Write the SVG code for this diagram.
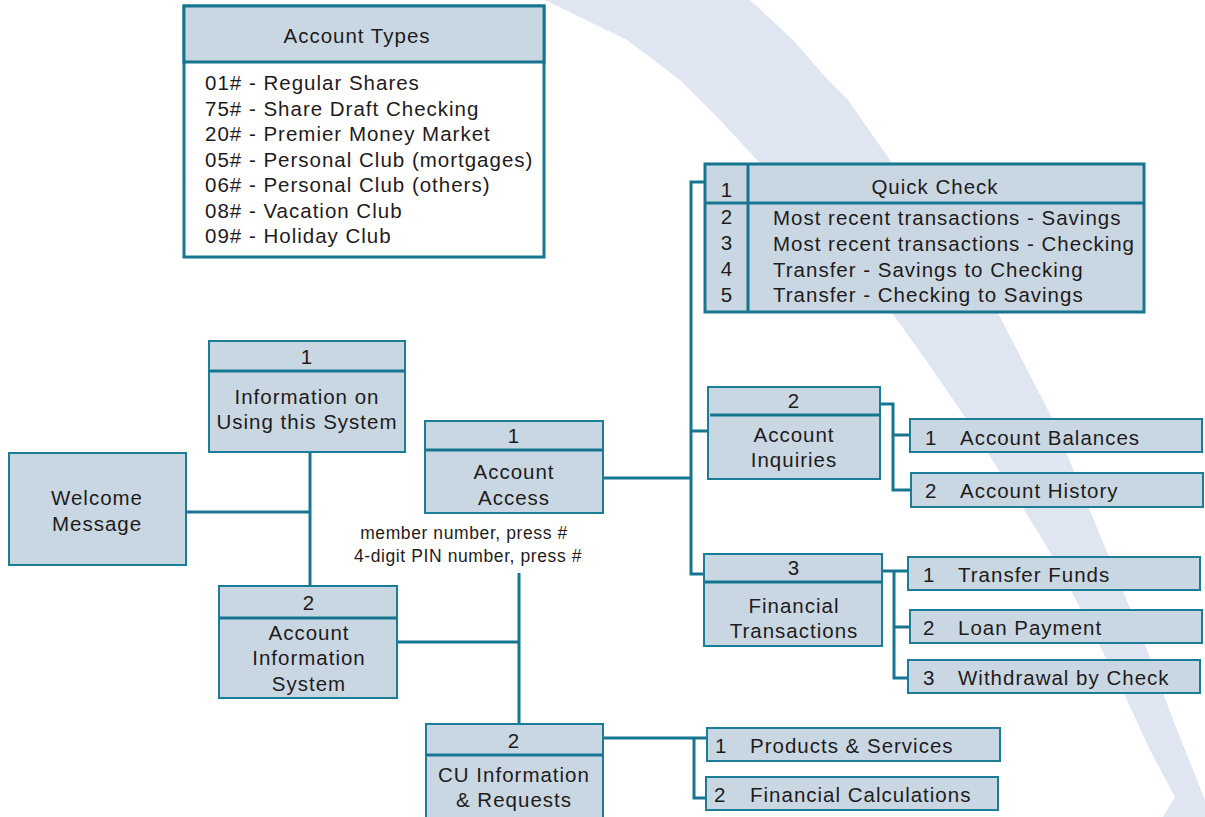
<svg xmlns="http://www.w3.org/2000/svg" width="1205" height="817" viewBox="0 0 1205 817">
<style>
.box{fill:#c9d7e2;stroke:#1b7d98;stroke-width:2}
.thick{fill:#c9d7e2;stroke:#17768f;stroke-width:3}
.div{stroke:#17768f;stroke-width:3;fill:none}
.conn{stroke:#17768f;stroke-width:3;fill:none}
text{font-family:"Liberation Sans",Arial,sans-serif;font-size:20.5px;fill:#1f1b1c;letter-spacing:1px}
.c{text-anchor:middle}
.sm{font-size:17.5px;letter-spacing:0.6px}
</style>
<rect width="1205" height="817" fill="#ffffff"/>
<path id="swoosh" fill="#dfe5f1" d="M545,0 L627,40 L680,80 L720,120 L757,160 L795,200 L830,240 L864,280 L892,313 L926,360 L967,420 L1005,480 L1043,540 L1076,600 L1102,650 L1127,700 L1150,750 L1175,797 L1163,817 L1205,817 L1205,800 L1175,725 L1147,650 L1100,535 L1053,420 L998,313 L958,255 L918,200 L848,100 L828,80 L793,40 L750,0 Z"/>

<g id="connectors">
<path class="conn" d="M186,512 H310"/>
<path class="conn" d="M310,452 V586"/>
<path class="conn" d="M397,642 H519"/>
<path class="conn" d="M519,573 V724"/>
<path class="conn" d="M603,478 H691"/>
<path class="conn" d="M705,182 H691 V574 H704"/>
<path class="conn" d="M691,431 H708"/>
<path class="conn" d="M880,404 H893 V490 H911"/>
<path class="conn" d="M893,435 H910"/>
<path class="conn" d="M882,571 H908"/>
<path class="conn" d="M894,571 V678 H908"/>
<path class="conn" d="M894,627 H910"/>
<path class="conn" d="M603,738 H708"/>
<path class="conn" d="M694,738 V798 H706"/>
</g>

<g id="account-types">
<rect x="184" y="6" width="360" height="251" fill="#ffffff" stroke="#17768f" stroke-width="3"/>
<rect x="184" y="6" width="360" height="56" fill="#c9d7e2" stroke="#17768f" stroke-width="3"/>
<text class="c" x="357" y="43">Account Types</text>
<text x="205" y="90">01# - Regular Shares</text>
<text x="205" y="116">75# - Share Draft Checking</text>
<text x="205" y="141">20# - Premier Money Market</text>
<text x="205" y="167">05# - Personal Club (mortgages)</text>
<text x="205" y="192">06# - Personal Club (others)</text>
<text x="205" y="218">08# - Vacation Club</text>
<text x="205" y="243">09# - Holiday Club</text>
</g>

<g id="quick-check">
<rect class="thick" x="705" y="164" width="439" height="148"/>
<line class="div" x1="705" y1="203" x2="1144" y2="203"/>
<line class="div" x1="748" y1="164" x2="748" y2="312"/>
<text class="c" x="727" y="197">1</text>
<text class="c" x="935" y="194">Quick Check</text>
<text class="c" x="727" y="224">2</text>
<text class="c" x="727" y="250">3</text>
<text class="c" x="727" y="276">4</text>
<text class="c" x="727" y="302">5</text>
<text x="773" y="225">Most recent transactions - Savings</text>
<text x="773" y="251">Most recent transactions - Checking</text>
<text x="773" y="277">Transfer - Savings to Checking</text>
<text x="773" y="302">Transfer - Checking to Savings</text>
</g>

<g id="info-system">
<rect class="box" x="209" y="341" width="196" height="111"/>
<line class="div" x1="209" y1="371" x2="404" y2="371"/>
<text class="c" x="307" y="364">1</text>
<text class="c" x="307" y="404">Information on</text>
<text class="c" x="307" y="429">Using this System</text>
</g>

<g id="welcome">
<rect class="box" x="9" y="453" width="177" height="112"/>
<text class="c" x="97" y="505">Welcome</text>
<text class="c" x="97" y="531">Message</text>
</g>

<g id="account-info-system">
<rect class="box" x="219" y="586" width="178" height="112"/>
<line class="div" x1="219" y1="618" x2="397" y2="618"/>
<text class="c" x="309" y="610">2</text>
<text class="c" x="309" y="640">Account</text>
<text class="c" x="309" y="665">Information</text>
<text class="c" x="309" y="691">System</text>
</g>

<g id="account-access">
<rect class="box" x="425" y="421" width="178" height="92"/>
<line class="div" x1="426" y1="450" x2="603" y2="450"/>
<text class="c" x="514" y="443">1</text>
<text class="c" x="514" y="479">Account</text>
<text class="c" x="514" y="505">Access</text>
</g>

<g id="login-label">
<text class="c sm" x="464" y="539">member number, press #</text>
<text class="c sm" x="468" y="562">4-digit PIN number, press #</text>
</g>

<g id="account-inquiries">
<rect class="box" x="708" y="387" width="172" height="92"/>
<line class="div" x1="710" y1="415" x2="881" y2="415"/>
<text class="c" x="794" y="408">2</text>
<text class="c" x="794" y="442">Account</text>
<text class="c" x="794" y="467">Inquiries</text>
</g>

<g id="account-balances">
<rect class="box" x="910" y="419" width="292" height="33"/>
<text x="925" y="445">1</text>
<text x="960" y="445">Account Balances</text>
</g>

<g id="account-history">
<rect class="box" x="911" y="473" width="292" height="34"/>
<text x="925" y="498">2</text>
<text x="960" y="498">Account History</text>
</g>

<g id="financial-transactions">
<rect class="box" x="704" y="554" width="178" height="92"/>
<line class="div" x1="704" y1="582" x2="882" y2="582"/>
<text class="c" x="794" y="575">3</text>
<text class="c" x="794" y="613">Financial</text>
<text class="c" x="794" y="638">Transactions</text>
</g>

<g id="transfer-funds">
<rect class="box" x="908" y="557" width="292" height="33"/>
<text x="923" y="582">1</text>
<text x="958" y="582">Transfer Funds</text>
</g>

<g id="loan-payment">
<rect class="box" x="910" y="610" width="292" height="33"/>
<text x="923" y="635">2</text>
<text x="958" y="635">Loan Payment</text>
</g>

<g id="withdrawal">
<rect class="box" x="908" y="660" width="292" height="33"/>
<text x="923" y="685">3</text>
<text x="958" y="685">Withdrawal by Check</text>
</g>

<g id="cu-information">
<rect class="box" x="426" y="724" width="177" height="100"/>
<line class="div" x1="426" y1="755" x2="602" y2="755"/>
<text class="c" x="514" y="748">2</text>
<text class="c" x="514" y="782">CU Information</text>
<text class="c" x="514" y="807">&amp; Requests</text>
</g>

<g id="products-services">
<rect class="box" x="707" y="728" width="293" height="33"/>
<text x="715" y="753">1</text>
<text x="750" y="753">Products &amp; Services</text>
</g>

<g id="financial-calculations">
<rect class="box" x="706" y="777" width="292" height="33"/>
<text x="714" y="802">2</text>
<text x="750" y="802">Financial Calculations</text>
</g>
</svg>
